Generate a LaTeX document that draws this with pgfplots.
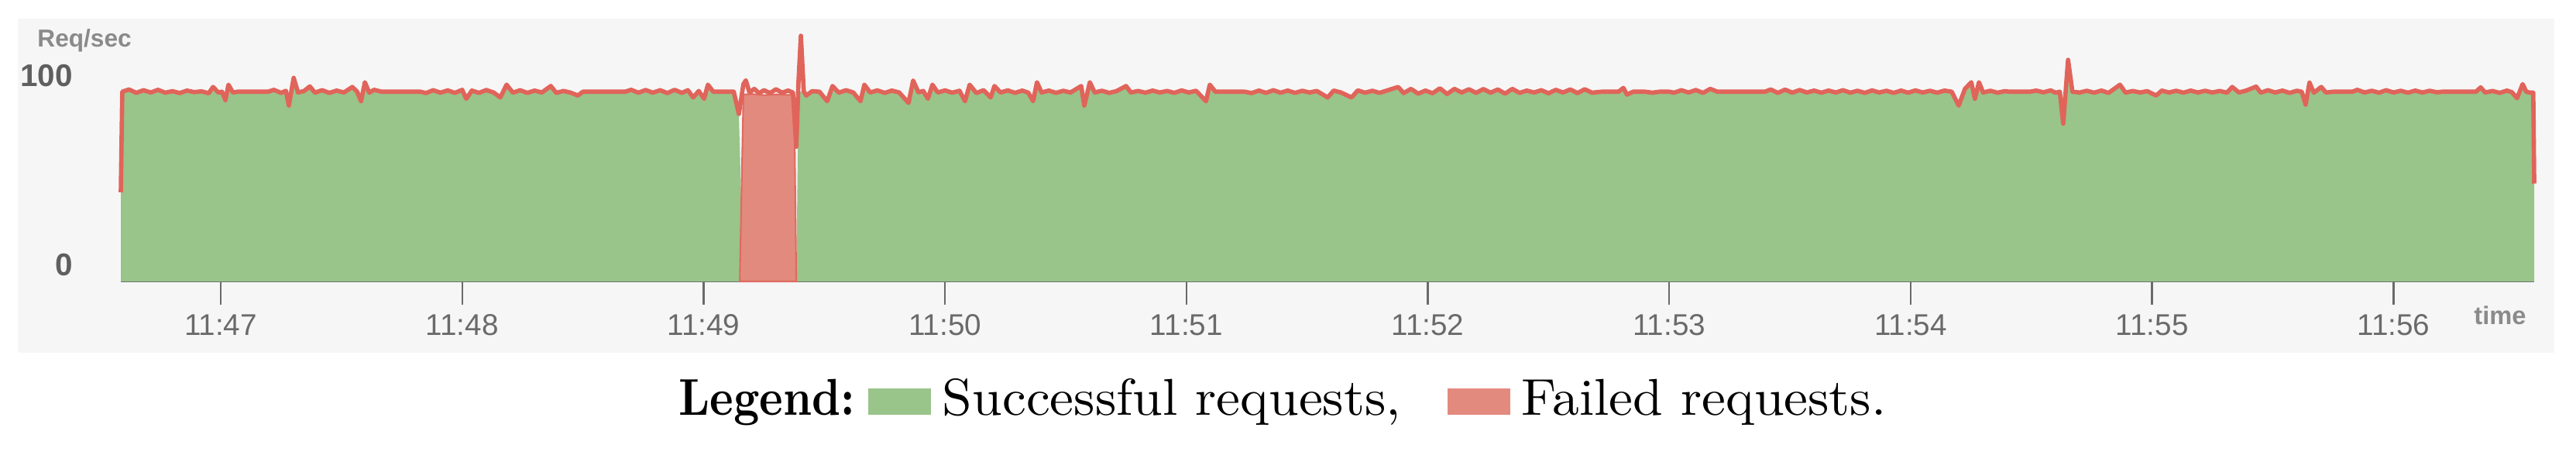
\documentclass[border=0pt]{standalone}
\usepackage{fontspec}
\usepackage{pgfplots}
\usepackage{pgfplotstable}
\pgfplotsset{compat=1.18}
\newfontfamily\chartfont{Liberation Sans}
\newfontfamily\legendreg{lmroman10-regular.otf}[FakeStretch=1.04]
\newfontfamily\legendbold{lmroman10-bold.otf}[FakeStretch=0.87]
\definecolor{okgreen}{HTML}{99C48A}
\definecolor{kofill}{HTML}{E38A7E}
\definecolor{koline}{HTML}{E0645A}
\definecolor{panel}{HTML}{F6F6F6}
\definecolor{axisgray}{HTML}{6A6A6A}
\definecolor{labgray}{HTML}{8A8A8A}

% t = minutes after 11:46, all = total req/sec, ok = successful req/sec
\pgfplotstableread{
t all ok
0.586 47 47
0.592 100 100
0.62 101.2 101.2
0.65 99.4 99.4
0.68 100.8 100.8
0.71 99.6 99.6
0.74 101.0 101.0
0.77 99.5 99.5
0.80 100.3 100.3
0.83 99.3 99.3
0.86 100.6 100.6
0.89 99.8 99.8
0.92 100.2 100.2
0.95 99.2 99.2
0.968 102.5 102.5
0.99 99.6 99.6
1.005 100 100
1.019 95.6 95.6
1.032 103.7 103.7
1.05 99.6 99.6
1.07 100 100
1.196 100 100
1.22 101.0 101.0
1.25 99.4 99.4
1.27 100.5 100.5
1.282 92.7 92.7
1.302 107.3 107.3
1.32 99.6 99.6
1.345 100.4 100.4
1.369 102.8 102.8
1.39 99.5 99.5
1.42 100.8 100.8
1.45 99.4 99.4
1.48 100.6 100.6
1.51 99.6 99.6
1.545 102.5 102.5
1.565 100 100
1.581 95 95
1.597 105 105
1.615 99.5 99.5
1.635 101 101
1.667 100 100
1.828 100 100
1.85 99.3 99.3
1.88 100.8 100.8
1.91 99.5 99.5
1.94 100.7 100.7
1.97 99.4 99.4
2.0 101 101
2.017 96.3 96.3
2.04 100.6 100.6
2.07 99.4 99.4
2.10 100.9 100.9
2.13 99.6 99.6
2.158 97 97
2.184 103.7 103.7
2.21 99.5 99.5
2.24 100.8 100.8
2.27 99.4 99.4
2.30 100.6 100.6
2.33 99.6 99.6
2.367 103 103
2.39 99.4 99.4
2.42 100.4 100.4
2.45 99.5 99.5
2.479 98 98
2.50 100 100
2.675 100 100
2.70 101 101
2.73 99.5 99.5
2.76 100.9 100.9
2.79 99.5 99.5
2.82 100.8 100.8
2.85 99.3 99.3
2.88 101 101
2.91 99.4 99.4
2.935 100.8 100.8
2.957 97 97
2.98 100.4 100.4
3.002 96.3 96.3
3.018 103.7 103.7
3.04 100 100
3.125 100 100
3.146 88.3 88.3
3.165 104 0
3.175 106 0
3.19 99.6 0
3.21 101.5 0
3.23 99.2 0
3.25 100.8 0
3.275 99.3 0
3.30 101.3 0
3.325 99.5 0
3.35 100.6 0
3.37 99.6 0
3.384 71 0
3.393 105 100
3.403 129.5 100
3.415 100.2 100.2
3.425 98 98
3.45 100.3 100.3
3.48 100 100
3.512 95 95
3.534 103 103
3.56 99.5 99.5
3.59 100.8 100.8
3.62 99.6 99.6
3.650 95 95
3.666 103.7 103.7
3.69 99.6 99.6
3.72 100.7 100.7
3.75 99.4 99.4
3.78 100.6 100.6
3.81 99.6 99.6
3.849 94.1 94.1
3.868 105.9 105.9
3.89 99.7 99.7
3.91 100.4 100.4
3.929 96.3 96.3
3.948 103.7 103.7
3.97 99.6 99.6
4.00 100.7 100.7
4.03 99.5 99.5
4.06 100.5 100.5
4.083 95 95
4.102 103.7 103.7
4.13 99.3 99.3
4.16 100.8 100.8
4.189 97 97
4.205 103 103
4.23 99.6 99.6
4.26 100.7 100.7
4.29 99.4 99.4
4.32 100.6 100.6
4.345 99.5 99.5
4.365 95 95
4.381 105 105
4.40 99.6 99.6
4.43 100.6 100.6
4.46 99.4 99.4
4.49 100.5 100.5
4.52 99.6 99.6
4.564 103 103
4.577 92.7 92.7
4.600 105 105
4.62 99.6 99.6
4.65 100.5 100.5
4.68 99.4 99.4
4.71 100.3 100.3
4.750 103 103
4.77 99.6 99.6
4.80 100.4 100.4
4.83 99.5 99.5
4.86 100.6 100.6
4.89 99.6 99.6
4.92 100.4 100.4
4.95 99.4 99.4
4.98 100.7 100.7
5.01 99.6 99.6
5.04 100.5 100.5
5.081 95 95
5.097 103.7 103.7
5.12 100 100
5.241 100 100
5.27 99.3 99.3
5.30 100.6 100.6
5.33 99.4 99.4
5.36 100.8 100.8
5.39 99.5 99.5
5.42 100.6 100.6
5.45 99.4 99.4
5.48 100.5 100.5
5.51 99.6 99.6
5.54 100.4 100.4
5.585 97 97
5.61 100.6 100.6
5.64 99.6 99.6
5.684 97 97
5.71 100.7 100.7
5.74 99.5 99.5
5.77 100.5 100.5
5.80 99.4 99.4
5.83 100.6 100.6
5.877 102.5 102.5
5.90 99.3 99.3
5.93 101.5 101.5
5.96 99.0 99.0
5.99 100.6 100.6
6.02 99.2 99.2
6.05 101.8 101.8
6.08 98.8 98.8
6.11 101.5 101.5
6.14 99.6 99.6
6.17 101.3 101.3
6.20 99.4 99.4
6.23 101.4 101.4
6.26 99.5 99.5
6.29 101.2 101.2
6.32 99.0 99.0
6.35 101.5 101.5
6.38 99.4 99.4
6.41 100.6 100.6
6.44 99.6 99.6
6.47 100.8 100.8
6.50 99.2 99.2
6.53 101.0 101.0
6.56 99.6 99.6
6.59 101.2 101.2
6.62 99.3 99.3
6.65 101.3 101.3
6.68 99.5 99.5
6.72 100 100
6.79 100 100
6.810 102 102
6.825 98.5 98.5
6.85 100 100
6.90 100 100
6.93 99.5 99.5
6.96 100 100
7.00 100 100
7.02 99.5 99.5
7.05 100.8 100.8
7.08 99.6 99.6
7.11 100.9 100.9
7.14 99.4 99.4
7.17 101.5 101.5
7.20 100 100
7.397 100 100
7.42 101.2 101.2
7.45 99.4 99.4
7.48 101.1 101.1
7.51 99.5 99.5
7.54 100.9 100.9
7.57 99.6 99.6
7.60 100.6 100.6
7.63 99.5 99.5
7.66 100.6 100.6
7.69 99.6 99.6
7.72 100.8 100.8
7.75 99.5 99.5
7.78 100.5 100.5
7.81 99.4 99.4
7.84 100.7 100.7
7.87 99.6 99.6
7.90 100.5 100.5
7.93 99.4 99.4
7.96 100.6 100.6
7.99 99.5 99.5
8.02 100.7 100.7
8.05 99.6 99.6
8.08 100.5 100.5
8.11 99.5 99.5
8.14 100.6 100.6
8.17 100 100
8.199 92.7 92.7
8.225 101.5 101.5
8.251 105 105
8.266 96.3 96.3
8.283 105 105
8.30 99.6 99.6
8.33 100.5 100.5
8.36 99.5 99.5
8.39 100.3 100.3
8.41 100 100
8.494 100 100
8.52 100.6 100.6
8.55 99.7 99.7
8.58 100.7 100.7
8.60 99.5 99.5
8.618 100 100
8.632 83.2 83.2
8.652 116.8 116.8
8.67 100 100
8.70 99.6 99.6
8.73 100.5 100.5
8.76 99.5 99.5
8.79 100.6 100.6
8.82 99.4 99.4
8.867 103.7 103.7
8.89 99.5 99.5
8.92 100.4 100.4
8.95 99.6 99.6
8.98 100.3 100.3
9.017 98 98
9.04 100.6 100.6
9.07 99.6 99.6
9.10 100.5 100.5
9.13 99.5 99.5
9.16 100.6 100.6
9.19 99.6 99.6
9.22 100.5 100.5
9.25 99.6 99.6
9.28 100.4 100.4
9.31 99.5 99.5
9.332 102.5 102.5
9.36 99.6 99.6
9.39 100.6 100.6
9.431 102.7 102.7
9.45 99.5 99.5
9.48 100.8 100.8
9.51 99.6 99.6
9.54 100.6 100.6
9.57 99.4 99.4
9.60 100.5 100.5
9.62 100 100
9.636 93.2 93.2
9.652 104.8 104.8
9.67 99.5 99.5
9.701 102.5 102.5
9.72 99.6 99.6
9.75 100 100
9.83 100 100
9.85 101 101
9.88 99.6 99.6
9.91 100.5 100.5
9.94 99.5 99.5
9.97 100.8 100.8
10.00 99.6 99.6
10.03 100.5 100.5
10.06 99.5 99.5
10.09 100.6 100.6
10.12 99.6 99.6
10.15 100.5 100.5
10.18 99.7 99.7
10.201 100 100
10.342 100 100
10.361 102.3 102.3
10.38 99.6 99.6
10.41 100.4 100.4
10.44 99.4 99.4
10.47 100.6 100.6
10.49 99.8 99.8
10.512 96.6 96.6
10.535 104 104
10.55 100 100
10.567 99.5 99.5
10.579 99.5 99.5
10.583 51.6 51.6
}\reqdata

\begin{document}
\begin{tikzpicture}
\useasboundingbox (0,0) rectangle (33.26,5.82);
\fill[panel] (0.23,1.27) rectangle (32.98,5.58);
\begin{axis}[
    at={(1.56cm,2.19cm)}, anchor=south west,
    scale only axis,
    width=31.16cm, height=3.23cm,
    xmin=0.586, xmax=10.583,
    ymin=0, ymax=132,
    clip=false,
    axis x line*=bottom,
    axis y line*=left,
    y axis line style={draw=none},
    x axis line style={draw=axisgray, line width=0.7pt, -},
    xtick={1,2,3,4,5,6,7,8,9,10},
    xticklabels={11:47,11:48,11:49,11:50,11:51,11:52,11:53,11:54,11:55,11:56},
    ytick={0,100},
    yticklabels={0,100},
    tick align=outside,
    major tick length=0.3cm,
    xtick style={draw=axisgray, line width=0.7pt},
    ytick style={draw=none},
    xticklabel style={font=\chartfont\fontsize{11}{13}\selectfont, text=axisgray},
    yticklabel style={font=\chartfont\bfseries\fontsize{11.5}{13}\selectfont, text=axisgray!90!black, anchor=east, xshift=-0.2cm, yshift=0.21cm},
]
\addplot[fill=okgreen, draw=none] table[x=t, y=ok] {\reqdata} \closedcycle;
\addplot[fill=kofill, draw=koline!85!kofill, line width=0.6pt] coordinates {
    (3.150,0) (3.165,98.5) (3.20,98.8) (3.25,98.2) (3.30,98.6) (3.35,98.3) (3.375,98.5) (3.384,0)} -- cycle;
\addplot[draw=koline, line width=1.6pt, line join=round] table[x=t, y=all] {\reqdata};
\end{axis}
\node[anchor=west, font=\chartfont\bfseries\fontsize{9}{11}\selectfont, text=labgray] at (0.36,5.30) {Req/sec};
\node[font=\chartfont\bfseries\fontsize{9.3}{11}\selectfont, text=labgray] at (32.28,1.75) {time};
\node[anchor=base, font=\fontsize{19}{23}\selectfont] at (16.56,0.47)
  {{\legendbold Legend:}\hspace{0.17cm}\textcolor{okgreen}{\rule{0.81cm}{0.34cm}}\hspace{0.15cm}{\legendreg Successful requests,}\hspace{0.6cm}\textcolor{kofill}{\rule{0.81cm}{0.34cm}}\hspace{0.15cm}{\legendreg Failed requests.}};
\end{tikzpicture}
\end{document}
